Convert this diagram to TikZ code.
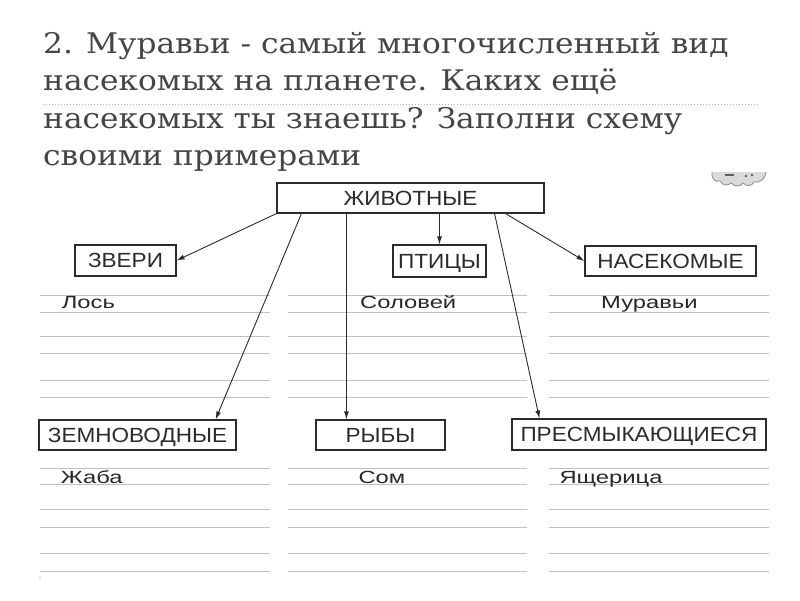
\documentclass[tikz,border=0pt]{standalone}
\usepackage{fontspec}
\setmainfont{Liberation Sans}
\newfontfamily\titlefont[FakeStretch=1.10]{DejaVu Serif}
\newfontfamily\labelfont[FakeStretch=1.1]{Liberation Sans}
\newfontfamily\examplefont[FakeStretch=1.35]{Liberation Sans}
\usetikzlibrary{
  arrows.meta,
  calc,
  positioning
}
\definecolor{sheetInk}{HTML}{2B2B2B}
\definecolor{titleInk}{HTML}{454545}
\definecolor{ruleGrey}{HTML}{C0C0C0}
\definecolor{dotBlue}{HTML}{A9B9C9}
\definecolor{cloudGrey}{HTML}{DADADA}
\tikzset{
  every node/.style={text=sheetInk},
  heading/.style={
    font=\titlefont\fontsize{28.4}{34}\selectfont,
    text=titleInk,
    anchor=base west,
    inner sep=0pt
  },
  group/.style={
    draw=sheetInk,
    line width=1.1pt,
    inner sep=0pt,
    font=\labelfont\fontsize{20.5}{24}\selectfont,
    text height=14.7pt,
    text depth=0pt
  },
  example/.style={
    font=\examplefont\fontsize{17.6}{20}\selectfont,
    text=sheetInk!90!black,
    anchor=base west,
    inner sep=0pt
  },
  link/.style={
    -{Latex[length=8pt,width=5pt]},
    line width=0.9pt,
    draw=sheetInk
  },
  ruling/.style={draw=ruleGrey, line width=0.8pt}
}

\begin{document}
\begin{tikzpicture}[x=1pt,y=-1pt]
  \useasboundingbox[fill=white] (0,0) rectangle (800,600);

  % task text
  \node[heading] (task1) at (43,53) {2. Муравьи - самый многочисленный вид};
  \node[heading] (task2) at (43,90.5) {насекомых на планете. Каких ещё};
  \node[heading] (task3) at (43,128) {насекомых ты знаешь? Заполни схему};
  \node[heading] (task4) at (43,165.5) {своими примерами};
  \draw[dotBlue, line width=1pt, dash pattern=on 1.2pt off 1.8pt] (43,104) -- (760,104);

  % page number cloud, cut off
  \draw[sheetInk!55, line width=0.8pt, fill=cloudGrey]
    (712,172) .. controls (711,180) and (716,182) .. (720,181)
    .. controls (723,186) and (728,186) .. (731,183)
    .. controls (735,187) and (740,187) .. (743,183)
    .. controls (747,187) and (752,186) .. (754,182)
    .. controls (759,183) and (765,180) .. (766,172);
  \draw[sheetInk!75, line width=1.6pt] (725,175) -- (734,175);
  \fill[sheetInk!75] (746,176) circle (1.3) (752,175) circle (1.3);

  % writing lines
  \foreach \y in {295,312,336,353,380,397,468,484,509,527,553,571} {
    \draw[ruling] (40,\y) -- (270,\y);
    \draw[ruling] (288,\y) -- (527,\y);
    \draw[ruling] (549,\y) -- (769,\y);
  }
  \fill[ruleGrey] (40,578) circle (0.8);

  % groups
  \node[group, minimum width=267pt, minimum height=30pt] (animals) at (410.5,198) {ЖИВОТНЫЕ};
  \node[group, minimum width=101pt, minimum height=31pt] (beasts) at (125.5,260.5) {ЗВЕРИ};
  \node[group, minimum width=93pt, minimum height=32pt] (birds) at (439.5,261) {ПТИЦЫ};
  \node[group, minimum width=171pt, minimum height=30pt] (insects) at (670.5,261) {НАСЕКОМЫЕ};
  \node[group, minimum width=197pt, minimum height=30pt] (amphibians) at (137.5,435) {ЗЕМНОВОДНЫЕ};
  \node[group, minimum width=129pt, minimum height=30pt] (fish) at (380.5,435) {РЫБЫ};
  \node[group, minimum width=254pt, minimum height=31pt] (reptiles) at (639,434.5) {ПРЕСМЫКАЮЩИЕСЯ};

  % examples
  \node[example] (elk) at (61.7,308) {Лось};
  \node[example] (nightingale) at (360,308) {Соловей};
  \node[example] (ants) at (601,308) {Муравьи};
  \node[example] (toad) at (60.7,483.3) {Жаба};
  \node[example] (catfish) at (358.3,483.3) {Сом};
  \node[example] (lizard) at (559.3,483.3) {Ящерица};

  % arrows
  \coordinate (fishin) at ($(fish.north west)+(31,0)$);
  \draw[link] (animals.south west) -- (beasts.east);
  \draw[link] ($(animals.south west)+(25,0)$) -- ($(amphibians.north east)+(-21,0)$);
  \draw[link] (animals.south -| fishin) -- (fishin);
  \draw[link] (animals.south -| birds.north) -- (birds.north);
  \draw[link] ($(animals.south east)+(-50,0)$) -- ($(reptiles.north west)+(28,0)$);
  \draw[link] ($(animals.south east)+(-39,0)$) -- (insects.west);
\end{tikzpicture}
\end{document}
